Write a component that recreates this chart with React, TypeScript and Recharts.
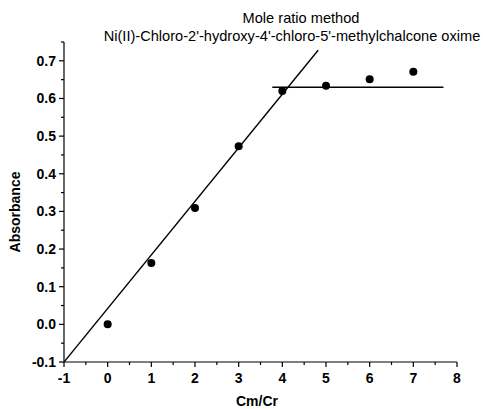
import { ComposedChart, Scatter, XAxis, YAxis } from 'recharts'

const FONT = '"Liberation Sans", Arial, sans-serif'

// measured points: mole ratio vs absorbance
const ratio = [0, 1, 2, 3, 4, 5, 6, 7]
const absorbance = [0.0, 0.163, 0.309, 0.473, 0.62, 0.634, 0.651, 0.671]

// rising fit line and plateau line (end points)
const riseX = [-1, 4.82]
const riseY = [-0.1, 0.728]
const plateauX = [3.77, 7.69]
const plateauY = [0.63, 0.63]

// major + minor ticks
const xTicks = [-1, -0.5, 0, 0.5, 1, 1.5, 2, 2.5, 3, 3.5, 4, 4.5, 5, 5.5, 6, 6.5, 7, 7.5, 8]
const yTicks = [
  -0.1, -0.05, 0, 0.05, 0.1, 0.15, 0.2, 0.25, 0.3, 0.35, 0.4, 0.45, 0.5, 0.55, 0.6, 0.65, 0.7, 0.75,
]

const title1 = 'Mole ratio method'
const title2 = "Ni(II)-Chloro-2'-hydroxy-4'-chloro-5'-methylchalcone oxime"

const points = ratio.map((x, i) => ({ x, y: absorbance[i] }))
const rise = riseX.map((x, i) => ({ x, y: riseY[i] }))
const plateau = plateauX.map((x, i) => ({ x, y: plateauY[i] }))

const isMajor = (v: number, step: number) => Math.abs(v / step - Math.round(v / step)) < 1e-6

function XTick({ x, y, payload }: any) {
  const v = payload.value as number
  const major = isMajor(v, 1)
  return (
    <g>
      <line x1={x} x2={x} y1={y} y2={y + (major ? 5 : 3)} stroke="#000" strokeWidth={1.2} />
      {major && (
        <text x={x} y={y + 21} textAnchor="middle" fontSize={14} fontWeight="bold" fontFamily={FONT} fill="#000">
          {v}
        </text>
      )}
    </g>
  )
}

function YTick({ x, y, payload }: any) {
  const v = payload.value as number
  const major = isMajor(v, 0.1) && v < 0.72
  return (
    <g>
      <line x1={x} x2={x - (major ? 5 : 3)} y1={y} y2={y} stroke="#000" strokeWidth={1.2} />
      {major && (
        <text x={x - 8} y={y + 5} textAnchor="end" fontSize={14} fontWeight="bold" fontFamily={FONT} fill="#000">
          {v.toFixed(1)}
        </text>
      )}
    </g>
  )
}

const Dot = (p: any) => <circle cx={p.cx} cy={p.cy} r={4} fill="#000" />
const NoDot = () => <g />

export default function App() {
  return (
    <div style={{ position: 'absolute', left: 0, top: 0, width: 483, height: 409, background: '#fff' }}>
      <ComposedChart width={483} height={409} margin={{ top: 42, right: 26, left: 0, bottom: 0 }}>
        <XAxis
          type="number"
          dataKey="x"
          domain={[-1, 8]}
          ticks={xTicks}
          interval={0}
          height={47}
          tickSize={0}
          tickMargin={0}
          tickLine={false}
          tick={<XTick />}
          axisLine={{ stroke: '#000', strokeWidth: 1.2 }}
          allowDataOverflow
        />
        <YAxis
          type="number"
          dataKey="y"
          domain={[-0.1, 0.75]}
          ticks={yTicks}
          interval={0}
          width={64}
          tickSize={0}
          tickMargin={0}
          tickLine={false}
          tick={<YTick />}
          axisLine={{ stroke: '#000', strokeWidth: 1.2 }}
          allowDataOverflow
        />
        <Scatter data={rise} shape={NoDot} line={{ stroke: '#000', strokeWidth: 1.4 }} isAnimationActive={false} />
        <Scatter data={plateau} shape={NoDot} line={{ stroke: '#000', strokeWidth: 1.4 }} isAnimationActive={false} />
        <Scatter data={points} shape={Dot} isAnimationActive={false} />
      </ComposedChart>
      <svg width={483} height={409} style={{ position: 'absolute', left: 0, top: 0, pointerEvents: 'none' }}>
        <g fontFamily={FONT} fill="#000">
          <text x={301} y={23} textAnchor="middle" fontSize={14.6}>
            {title1}
          </text>
          <text x={292} y={41} textAnchor="middle" fontSize={14.6}>
            {title2}
          </text>
          <text x={257} y={406} textAnchor="middle" fontSize={14} fontWeight="bold">
            Cm/Cr
          </text>
          <text x={20} y={212} textAnchor="middle" fontSize={14} fontWeight="bold" transform="rotate(-90 20 212)">
            Absorbance
          </text>
        </g>
      </svg>
    </div>
  )
}
